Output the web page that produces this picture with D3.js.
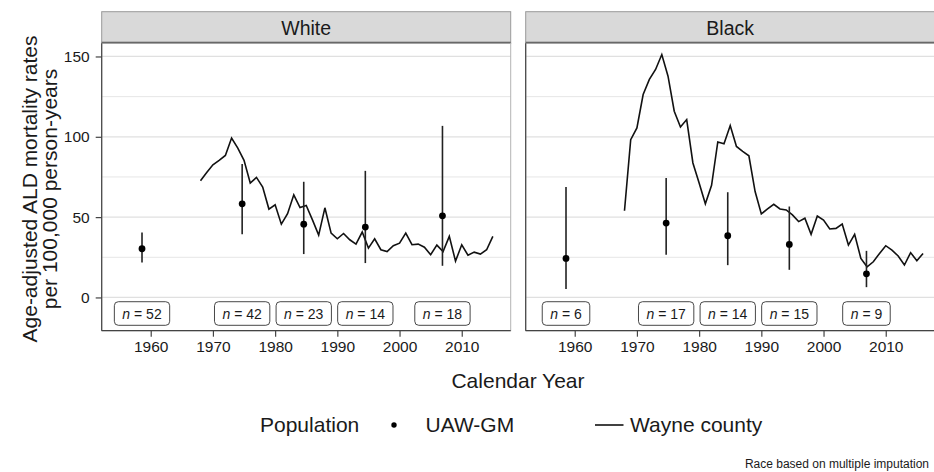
<!DOCTYPE html>
<html>
<head>
<meta charset="utf-8">
<script src="https://cdn.jsdelivr.net/npm/d3@7"></script>
<style>
  html, body { margin: 0; padding: 0; background: #fff; }
  svg { display: block; font-family: "Liberation Sans", Arial, sans-serif; }
</style>
</head>
<body>
<svg id="chart" width="934" height="472"></svg>
<script>
// ---------------- data ----------------
const panels = ["White", "Black"];
const yTicks = [0, 50, 100, 150];
const yMinor = [25, 75, 125];
const xTicks = [1960, 1970, 1980, 1990, 2000, 2010];

// UAW-GM cohort estimates (period midpoints)
const uawYears = [1958.6, 1974.7, 1984.6, 1994.5, 2006.9];
const whiteUawRate = [30.3, 58.3, 45.6, 43.8, 50.8];
const whiteUawLow  = [21.8, 39.4, 27.0, 21.4, 19.7];
const whiteUawHigh = [40.4, 83.0, 72.0, 78.8, 106.8];
const whiteN = [52, 42, 23, 14, 18];

const blackUawRate = [24.3, 46.3, 38.4, 33.0, 14.7];
const blackUawLow  = [5.2, 26.6, 20.1, 17.2, 6.4];
const blackUawHigh = [68.7, 74.4, 65.5, 56.6, 29.0];
const blackN = [6, 17, 14, 15, 9];

// Wayne county annual rates
const whiteWayneYears = d3.range(1968, 2016);
const whiteWayne = [72.6, 77.8, 82.6, 85.3, 88.4, 99.2, 92.9, 85.3, 71.2, 74.7,
  68.7, 55.0, 57.7, 45.6, 52.1, 63.9, 56.0, 57.3, 48.3, 38.8,
  55.8, 40.0, 36.5, 39.8, 35.9, 33.2, 40.7, 30.7, 36.5, 29.7,
  28.6, 32.2, 33.8, 40.0, 32.8, 33.2, 31.3, 26.6, 32.6, 28.6,
  38.0, 22.6, 32.8, 26.3, 28.2, 27.0, 29.7, 38.0];
const blackWayneYears = d3.range(1968, 2017);
const blackWayne = [54.0, 98.2, 105.5, 126.3, 135.7, 141.9, 151.2, 137.7, 115.9, 106.1,
  110.7, 83.7, 71.2, 58.3, 69.8, 96.8, 95.6, 107.0, 94.0, 90.9,
  88.2, 65.9, 52.0, 55.1, 58.0, 55.1, 54.5, 51.4, 47.2, 49.3,
  39.3, 50.7, 48.2, 42.6, 43.0, 45.7, 32.6, 39.3, 24.3, 19.1,
  22.2, 27.4, 32.2, 29.5, 25.8, 20.2, 27.9, 22.9, 27.4];

const labelY = -10;

const panelData = {
  White: { uaw: uawYears.map((y, i) => ({x: y, v: whiteUawRate[i], lo: whiteUawLow[i], hi: whiteUawHigh[i], n: whiteN[i]})),
           wayne: whiteWayneYears.map((y, i) => ({x: y, v: whiteWayne[i]})) },
  Black: { uaw: uawYears.map((y, i) => ({x: y, v: blackUawRate[i], lo: blackUawLow[i], hi: blackUawHigh[i], n: blackN[i]})),
           wayne: blackWayneYears.map((y, i) => ({x: y, v: blackWayne[i]})) }
};

// ---------------- layout ----------------
const svg = d3.select("#chart");
const font = "'Liberation Sans', Arial, sans-serif";
const panelTop = 43.3, panelBottom = 330.7, stripTop = 11.7;
const panelLefts = [101.7, 525.7];
const panelW = 409;

const y = d3.scaleLinear().domain([-20.7, 158.2]).range([panelBottom, panelTop]);

panels.forEach((name, pi) => {
  const x0 = panelLefts[pi];
  const x = d3.scaleLinear().domain([1952.12, 2017.87]).range([x0, x0 + panelW]);
  const g = svg.append("g");

  // strip
  g.append("rect").attr("x", x0).attr("y", stripTop).attr("width", panelW).attr("height", panelTop - stripTop)
    .attr("fill", "#d9d9d9").attr("stroke", "#9a9a9a").attr("stroke-width", 1);
  g.append("line").attr("x1", x0).attr("x2", x0 + panelW).attr("y1", panelTop - 0.5).attr("y2", panelTop - 0.5)
    .attr("stroke", "#555").attr("stroke-width", 2);
  g.append("text").attr("x", x0 + panelW / 2).attr("y", (stripTop + panelTop) / 2).attr("dy", "0.36em")
    .attr("text-anchor", "middle").attr("font-size", 19.5).attr("fill", "#1a1a1a").text(name);

  // grid
  g.selectAll(".minor").data(yMinor).join("line")
    .attr("x1", x0).attr("x2", x0 + panelW).attr("y1", d => y(d)).attr("y2", d => y(d))
    .attr("stroke", "#e6e6e6").attr("stroke-width", 1);
  g.selectAll(".major").data(yTicks).join("line")
    .attr("x1", x0).attr("x2", x0 + panelW).attr("y1", d => y(d)).attr("y2", d => y(d))
    .attr("stroke", "#e0e0e0").attr("stroke-width", 1.2);

  // panel border
  g.append("rect").attr("x", x0).attr("y", panelTop).attr("width", panelW).attr("height", panelBottom - panelTop)
    .attr("fill", "none").attr("stroke", "#b3b3b3").attr("stroke-width", 1);
  g.append("line").attr("x1", x0).attr("x2", x0).attr("y1", panelTop).attr("y2", panelBottom)
    .attr("stroke", "#444").attr("stroke-width", 1.2);
  g.append("line").attr("x1", x0).attr("x2", x0 + panelW).attr("y1", panelBottom).attr("y2", panelBottom)
    .attr("stroke", "#444").attr("stroke-width", 1.2);

  // x axis
  const xAxis = d3.axisBottom(x).tickValues(xTicks).tickFormat(d3.format("d")).tickSize(6).tickPadding(4.5);
  const xa = g.append("g").attr("transform", `translate(0,${panelBottom})`).call(xAxis);
  xa.select(".domain").remove();
  xa.selectAll(".tick line").attr("stroke", "#444").attr("stroke-width", 1.2);
  xa.selectAll(".tick text").attr("font-family", font).attr("font-size", 15.5).attr("fill", "#1a1a1a");

  if (pi === 0) {
    const yAxis = d3.axisLeft(y).tickValues(yTicks).tickSize(6).tickPadding(6);
    const ya = g.append("g").attr("transform", `translate(${x0},0)`).call(yAxis);
    ya.select(".domain").remove();
    ya.selectAll(".tick line").attr("stroke", "#444").attr("stroke-width", 1.2);
    ya.selectAll(".tick text").attr("font-family", font).attr("font-size", 15.5).attr("fill", "#1a1a1a");
  }

  const d = panelData[name];
  // Wayne county line
  g.append("path").datum(d.wayne)
    .attr("d", d3.line().x(p => x(p.x)).y(p => y(p.v)))
    .attr("fill", "none").attr("stroke", "#111").attr("stroke-width", 1.6).attr("stroke-linejoin", "miter");

  // error bars
  g.selectAll(".err").data(d.uaw).join("line")
    .attr("x1", p => x(p.x)).attr("x2", p => x(p.x)).attr("y1", p => y(p.lo)).attr("y2", p => y(p.hi))
    .attr("stroke", "#222").attr("stroke-width", 1.6);
  g.selectAll(".pt").data(d.uaw).join("circle")
    .attr("cx", p => x(p.x)).attr("cy", p => y(p.v)).attr("r", 3.4).attr("fill", "#000");

  // n labels
  d.uaw.forEach(p => {
    const lg = g.append("g").attr("transform", `translate(${x(p.x)},${y(labelY)})`);
    const t = lg.append("text").attr("text-anchor", "middle").attr("dy", "0.36em")
      .attr("font-size", 14).attr("fill", "#1a1a1a");
    t.append("tspan").attr("font-style", "italic").text("n");
    t.append("tspan").text(" = " + p.n);
    const w = t.node().getComputedTextLength() + 16;
    lg.insert("rect", "text").attr("x", -w / 2).attr("y", -11.8).attr("width", w).attr("height", 23.6)
      .attr("rx", 4).attr("ry", 4).attr("fill", "#fff").attr("stroke", "#333").attr("stroke-width", 0.9);
  });
});

// axis titles
svg.append("text").attr("x", 518).attr("y", 387.5).attr("text-anchor", "middle")
  .attr("font-size", 21).attr("fill", "#1a1a1a").text("Calendar Year");
const yt = svg.append("g").attr("transform", `translate(0,${(panelTop + panelBottom) / 2 + 2}) rotate(-90)`);
yt.append("text").attr("x", 0).attr("y", 36.5).attr("text-anchor", "middle")
  .attr("font-size", 21).attr("fill", "#1a1a1a").text("Age-adjusted ALD mortality rates");
yt.append("text").attr("x", 0).attr("y", 56.5).attr("text-anchor", "middle")
  .attr("font-size", 21).attr("fill", "#1a1a1a").text("per 100,000 person-years");

// legend
const lgY = 425;
svg.append("text").attr("x", 260).attr("y", lgY + 6.8).attr("font-size", 21).attr("fill", "#1a1a1a").text("Population");
svg.append("circle").attr("cx", 394).attr("cy", lgY).attr("r", 2.7).attr("fill", "#000");
svg.append("text").attr("x", 425.5).attr("y", lgY + 6.8).attr("font-size", 21).attr("fill", "#1a1a1a").text("UAW-GM");
svg.append("line").attr("x1", 595).attr("x2", 623.5).attr("y1", lgY).attr("y2", lgY).attr("stroke", "#111").attr("stroke-width", 1.6);
svg.append("text").attr("x", 630).attr("y", lgY + 6.8).attr("font-size", 21).attr("fill", "#1a1a1a").text("Wayne county");

// caption
svg.append("text").attr("x", 929).attr("y", 468).attr("text-anchor", "end")
  .attr("font-size", 12).attr("fill", "#1a1a1a").text("Race based on multiple imputation");
</script>
</body>
</html>
